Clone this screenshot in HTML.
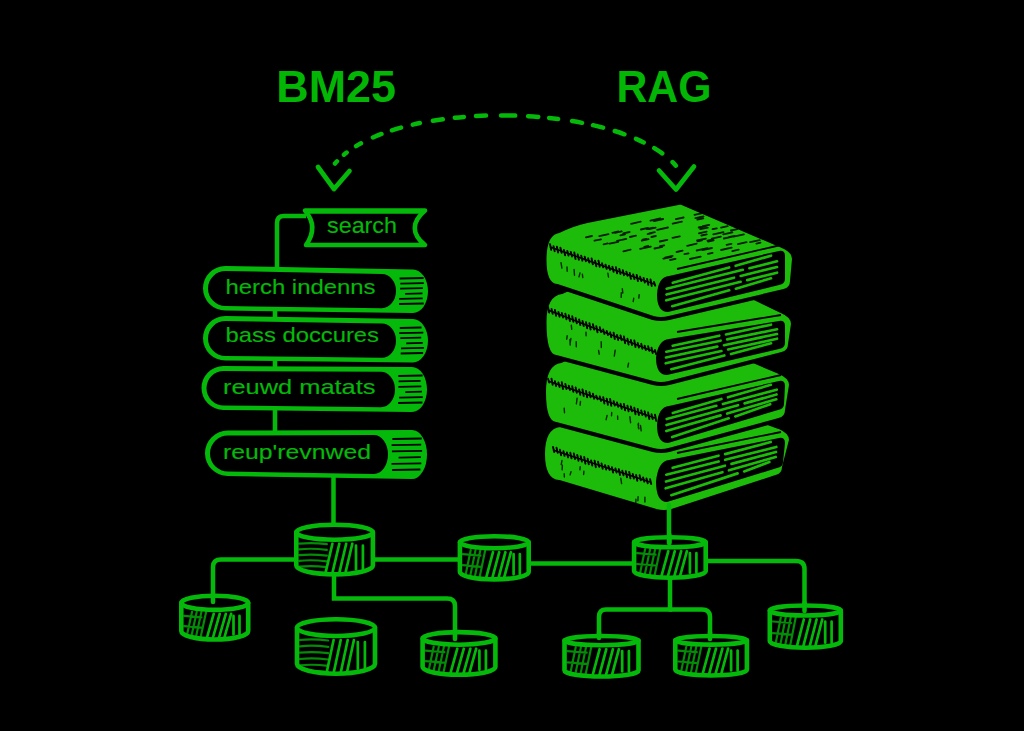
<!DOCTYPE html>
<html><head><meta charset="utf-8"><style>
html,body{margin:0;padding:0;background:#000;width:1024px;height:731px;overflow:hidden}
svg{display:block}
</style></head><body>
<svg width="1024" height="731" viewBox="0 0 1024 731">
<rect width="1024" height="731" fill="#000"/>
<text x="276.3" y="101.5" font-family="Liberation Sans" font-weight="bold" font-size="44" fill="#03b505" textLength="119.5" lengthAdjust="spacingAndGlyphs">BM25</text>
<text x="616.5" y="101.5" font-family="Liberation Sans" font-weight="bold" font-size="44" fill="#03b505" textLength="95" lengthAdjust="spacingAndGlyphs">RAG</text>
<path d="M333,166 C385.8,96.9 621.4,99.8 677,167" fill="none" stroke="#05b90a" stroke-width="4.5" stroke-linecap="round" stroke-dasharray="3.0 9.6 3.5 11.4 5.6 13.3 9.3 11.2 9.3 12.3 7.2 13.2 10.0 12.1 9.1 12.1 10.0 15.0 14.1 13.0 10.1 10.9 9.1 14.0 10.2 11.1 10.4 12.1 10.2 12.4 8.5 12.2 9.5 13.6 4.8 400.0" stroke-dashoffset="-3.2"/>
<polyline points="318,167 334,189 349.5,171" fill="none" stroke="#05b90a" stroke-width="4.7" stroke-linecap="round" stroke-linejoin="round"/>
<polyline points="659,170.5 676,189.5 694,166.5" fill="none" stroke="#05b90a" stroke-width="4.7" stroke-linecap="round" stroke-linejoin="round"/>
<path d="M306,216 H284 Q277,216 277,223 V268" fill="none" stroke="#05b90a" stroke-width="4.5"/>
<path d="M305,210.5 H425 Q404.5,228 425,245 H306 Q319,227 305,210.5 Z" fill="#000" stroke="#05b90a" stroke-width="4.6" stroke-linejoin="round"/>
<path d="M308,212.5 H421" stroke="#05b90a" stroke-width="2.5"/>
<text x="327" y="233" font-family="Liberation Sans" font-size="22" fill="#05b90a" stroke="#05b90a" stroke-width="0.15" textLength="70" lengthAdjust="spacingAndGlyphs">search</text>
<line x1="275" y1="309" x2="275" y2="318" stroke="#05b90a" stroke-width="4.5"/>
<line x1="275" y1="359" x2="275" y2="368" stroke="#05b90a" stroke-width="4.5"/>
<line x1="275" y1="408" x2="275" y2="433" stroke="#05b90a" stroke-width="4.5"/>
<path d="M225.25,266 L413,269.5 A15,21.75 0 0 1 413,313 L225.25,310.5 A22.25,22.25 0 0 1 225.25,266 Z" fill="#05b90a"/>
<path d="M225.5,271 L382,273.975 A14,17.07499999999999 0 0 1 382,308.125 L225.5,306.0 A17.5,17.5 0 0 1 225.5,271 Z" fill="#000"/>
<path d="M399.6,278.5 L423.5,278.0 M400.3,283.6 L423.8,283.1 M400.1,288.7 L422.9,288.2 M405.1,293.8 L422.5,293.3 M399.1,298.9 L422.7,298.4 M399.1,304.0 L423.7,303.5" stroke="#000" stroke-width="1.8" fill="none"/>
<text x="225.5" y="293.7" font-family="Liberation Sans" font-size="21" fill="#05b90a" stroke="#05b90a" stroke-width="0.15" textLength="150" lengthAdjust="spacingAndGlyphs">herch indenns</text>
<path d="M225.25,316 L413,319 A15,21.75 0 0 1 413,362.5 L225.25,360.5 A22.25,22.25 0 0 1 225.25,316 Z" fill="#05b90a"/>
<path d="M225.5,321 L382,323.55 A14,17.07499999999999 0 0 1 382,357.7 L225.5,356.0 A17.5,17.5 0 0 1 225.5,321 Z" fill="#000"/>
<path d="M399.8,328.0 L421.5,327.5 M399.2,333.1 L423.3,332.6 M400.3,338.2 L421.2,337.7 M406.2,343.3 L422.8,342.8 M401.0,348.4 L423.9,347.9 M400.7,353.5 L423.1,353.0" stroke="#000" stroke-width="1.8" fill="none"/>
<text x="225.5" y="342" font-family="Liberation Sans" font-size="21" fill="#05b90a" stroke="#05b90a" stroke-width="0.15" textLength="153.5" lengthAdjust="spacingAndGlyphs">bass doccures</text>
<path d="M223.5,366 L412,367 A15,22.5 0 0 1 412,412 L223.5,410 A22.0,22.0 0 0 1 223.5,366 Z" fill="#05b90a"/>
<path d="M223.75,371 L381,371.85 A14,17.674999999999983 0 0 1 381,407.2 L223.75,405.5 A17.25,17.25 0 0 1 223.75,371 Z" fill="#000"/>
<path d="M398.3,376.0 L422.6,375.5 M398.6,381.4 L420.6,380.9 M398.4,386.8 L421.3,386.3 M405.3,392.2 L421.9,391.7 M399.1,397.6 L422.8,397.1 M398.1,403.0 L422.4,402.5" stroke="#000" stroke-width="1.8" fill="none"/>
<text x="223" y="393.7" font-family="Liberation Sans" font-size="21" fill="#05b90a" stroke="#05b90a" stroke-width="0.15" textLength="152.5" lengthAdjust="spacingAndGlyphs">reuwd matats</text>
<path d="M227.75,430.5 L412,430 A15,24.5 0 0 1 412,479 L227.75,476 A22.75,22.75 0 0 1 227.75,430.5 Z" fill="#05b90a"/>
<path d="M228.0,435.5 L374,435.075 A14,19.48750000000001 0 0 1 374,474.05 L228.0,471.5 A18.0,18.0 0 0 1 228.0,435.5 Z" fill="#000"/>
<path d="M392.4,439.0 L421.7,438.5 M391.6,445.2 L421.2,444.7 M391.9,451.4 L422.1,450.9 M398.6,457.6 L420.9,457.1 M391.5,463.8 L421.3,463.3 M392.1,470.0 L420.4,469.5" stroke="#000" stroke-width="1.8" fill="none"/>
<text x="223" y="459" font-family="Liberation Sans" font-size="21" fill="#05b90a" stroke="#05b90a" stroke-width="0.15" textLength="148" lengthAdjust="spacingAndGlyphs">reup'revnwed</text>
<path d="M333.5,477 V524" fill="none" stroke="#05b90a" stroke-width="4.5" stroke-linecap="round"/>
<path d="M294,559.5 H221 Q213,559.5 213,567 V602" fill="none" stroke="#05b90a" stroke-width="4.5" stroke-linecap="round"/>
<path d="M375,559.5 H458" fill="none" stroke="#05b90a" stroke-width="4.5" stroke-linecap="round"/>
<path d="M531,563.5 H632" fill="none" stroke="#05b90a" stroke-width="4.5" stroke-linecap="round"/>
<path d="M334,577 V598.5 H447 Q455,598.5 455,606 V639" fill="none" stroke="#05b90a" stroke-width="4.5" stroke-linecap="round"/>
<path d="M708,561 H796 Q804.5,561 804.5,569 V611" fill="none" stroke="#05b90a" stroke-width="4.5" stroke-linecap="round"/>
<path d="M670,580 V609.5 H606 Q599,609.5 599,617 V638" fill="none" stroke="#05b90a" stroke-width="4.5" stroke-linecap="round"/>
<path d="M670,609.5 H702 Q710,609.5 710,617 V639" fill="none" stroke="#05b90a" stroke-width="4.5" stroke-linecap="round"/>
<path d="M296.3,532.2 V565.5 A38.3,8.9 0 0 0 372.9,565.5 V532.2 Z" fill="#000" stroke="#05b90a" stroke-width="4.6" stroke-linejoin="round"/>
<clipPath id="cc0"><path d="M296.3,532.2 V565.5 A38.3,8.9 0 0 0 372.9,565.5 V532.2 Z"/></clipPath>
<g clip-path="url(#cc0)" stroke="#05b90a" stroke-linecap="round" fill="none"><path d="M325.4,573.4 L332.4,543.7 M332.3,573.4 L339.3,543.7 M339.2,573.4 L346.2,543.7 M345.3,573.4 L352.3,543.7 M356.0,545.7 L356.0,569.4 M362.9,545.7 L362.9,569.4" stroke-width="2.7"/><path d="M299.3,543.7 Q311.6,542.2 326.9,544.2 M299.3,549.4 Q311.6,547.9 326.9,549.9 M299.3,555.2 Q311.6,553.7 326.9,555.7 M299.3,560.9 Q311.6,559.4 326.9,561.4 M299.3,566.7 Q311.6,565.2 326.9,567.2 M299.3,572.4 Q311.6,570.9 326.9,572.9" stroke-width="2.2" opacity="0.75"/></g>
<ellipse cx="334.6" cy="532.2" rx="38.3" ry="7.5" fill="#000" stroke="#05b90a" stroke-width="4.6"/>
<path d="M459.9,542.2 V571.9 A34.4,7.5 0 0 0 528.7,571.9 V542.2 Z" fill="#000" stroke="#05b90a" stroke-width="4.6" stroke-linejoin="round"/>
<clipPath id="cc1"><path d="M459.9,542.2 V571.9 A34.4,7.5 0 0 0 528.7,571.9 V542.2 Z"/></clipPath>
<g clip-path="url(#cc1)" stroke="#05b90a" stroke-linecap="round" fill="none"><path d="M486.0,578.3 L493.0,552.2 M492.2,578.3 L499.2,552.2 M498.4,578.3 L505.4,552.2 M503.9,578.3 L510.9,552.2 M513.6,554.2 L513.6,574.3 M519.8,554.2 L519.8,574.3" stroke-width="2.7"/><path d="M462.9,554.2 L480.5,555.7 M462.9,565.2 L480.5,566.8 M462.9,576.3 L480.5,577.8 M464.7,579.3 L470.7,550.2 M469.5,579.3 L475.5,550.2 M474.3,579.3 L480.3,550.2 M479.2,579.3 L485.2,550.2" stroke-width="2.2" opacity="0.75"/></g>
<ellipse cx="494.3" cy="542.2" rx="34.4" ry="6.0" fill="#000" stroke="#05b90a" stroke-width="4.6"/>
<path d="M634.1,542.2 V571.2 A35.8,6.5 0 0 0 705.7,571.2 V542.2 Z" fill="#000" stroke="#05b90a" stroke-width="4.6" stroke-linejoin="round"/>
<clipPath id="cc2"><path d="M634.1,542.2 V571.2 A35.8,6.5 0 0 0 705.7,571.2 V542.2 Z"/></clipPath>
<g clip-path="url(#cc2)" stroke="#05b90a" stroke-linecap="round" fill="none"><path d="M661.3,576.7 L668.3,551.2 M667.8,576.7 L674.8,551.2 M674.2,576.7 L681.2,551.2 M679.9,576.7 L686.9,551.2 M689.9,553.2 L689.9,572.7 M696.4,553.2 L696.4,572.7" stroke-width="2.7"/><path d="M637.1,553.2 L655.6,554.7 M637.1,564.0 L655.6,565.5 M637.1,574.7 L655.6,576.2 M639.1,577.7 L645.1,549.2 M644.1,577.7 L650.1,549.2 M649.1,577.7 L655.1,549.2 M654.1,577.7 L660.1,549.2" stroke-width="2.2" opacity="0.75"/></g>
<ellipse cx="669.9" cy="542.2" rx="35.8" ry="5.0" fill="#000" stroke="#05b90a" stroke-width="4.6"/>
<path d="M181.3,602.8 V630.9 A33.4,8.6 0 0 0 248.2,630.9 V602.8 Z" fill="#000" stroke="#05b90a" stroke-width="4.6" stroke-linejoin="round"/>
<clipPath id="cc3"><path d="M181.3,602.8 V630.9 A33.4,8.6 0 0 0 248.2,630.9 V602.8 Z"/></clipPath>
<g clip-path="url(#cc3)" stroke="#05b90a" stroke-linecap="round" fill="none"><path d="M206.7,638.5 L213.7,613.9 M212.7,638.5 L219.7,613.9 M218.8,638.5 L225.8,613.9 M224.1,638.5 L231.1,613.9 M233.5,615.9 L233.5,634.5 M239.5,615.9 L239.5,634.5" stroke-width="2.7"/><path d="M184.3,615.9 L201.4,617.4 M184.3,626.2 L201.4,627.7 M184.3,636.5 L201.4,638.0 M186.0,639.5 L192.0,611.9 M190.7,639.5 L196.7,611.9 M195.4,639.5 L201.4,611.9 M200.1,639.5 L206.1,611.9" stroke-width="2.2" opacity="0.75"/></g>
<ellipse cx="214.8" cy="602.8" rx="33.4" ry="7.1" fill="#000" stroke="#05b90a" stroke-width="4.6"/>
<path d="M297.0,627.6 V663.8 A39.0,9.9 0 0 0 375.0,663.8 V627.6 Z" fill="#000" stroke="#05b90a" stroke-width="4.6" stroke-linejoin="round"/>
<clipPath id="cc4"><path d="M297.0,627.6 V663.8 A39.0,9.9 0 0 0 375.0,663.8 V627.6 Z"/></clipPath>
<g clip-path="url(#cc4)" stroke="#05b90a" stroke-linecap="round" fill="none"><path d="M326.6,672.7 L333.6,640.0 M333.7,672.7 L340.7,640.0 M340.7,672.7 L347.7,640.0 M346.9,672.7 L353.9,640.0 M357.8,642.0 L357.8,668.7 M364.9,642.0 L364.9,668.7" stroke-width="2.7"/><path d="M300.0,640.0 Q312.6,638.5 328.2,640.5 M300.0,646.3 Q312.6,644.8 328.2,646.8 M300.0,652.7 Q312.6,651.2 328.2,653.2 M300.0,659.0 Q312.6,657.5 328.2,659.5 M300.0,665.4 Q312.6,663.9 328.2,665.9 M300.0,671.7 Q312.6,670.2 328.2,672.2" stroke-width="2.2" opacity="0.75"/></g>
<ellipse cx="336.0" cy="627.6" rx="39.0" ry="8.4" fill="#000" stroke="#05b90a" stroke-width="4.6"/>
<path d="M422.6,638.4 V666.9 A36.4,7.8 0 0 0 495.4,666.9 V638.4 Z" fill="#000" stroke="#05b90a" stroke-width="4.6" stroke-linejoin="round"/>
<clipPath id="cc5"><path d="M422.6,638.4 V666.9 A36.4,7.8 0 0 0 495.4,666.9 V638.4 Z"/></clipPath>
<g clip-path="url(#cc5)" stroke="#05b90a" stroke-linecap="round" fill="none"><path d="M450.3,673.7 L457.3,648.7 M456.8,673.7 L463.8,648.7 M463.4,673.7 L470.4,648.7 M469.2,673.7 L476.2,648.7 M479.4,650.7 L479.4,669.7 M485.9,650.7 L485.9,669.7" stroke-width="2.7"/><path d="M425.6,650.7 L444.4,652.2 M425.6,661.2 L444.4,662.7 M425.6,671.7 L444.4,673.2 M427.7,674.7 L433.7,646.7 M432.8,674.7 L438.8,646.7 M437.9,674.7 L443.9,646.7 M443.0,674.7 L449.0,646.7" stroke-width="2.2" opacity="0.75"/></g>
<ellipse cx="459.0" cy="638.4" rx="36.4" ry="6.3" fill="#000" stroke="#05b90a" stroke-width="4.6"/>
<path d="M564.5,640.6 V670.4 A37.0,6.1 0 0 0 638.5,670.4 V640.6 Z" fill="#000" stroke="#05b90a" stroke-width="4.6" stroke-linejoin="round"/>
<clipPath id="cc6"><path d="M564.5,640.6 V670.4 A37.0,6.1 0 0 0 638.5,670.4 V640.6 Z"/></clipPath>
<g clip-path="url(#cc6)" stroke="#05b90a" stroke-linecap="round" fill="none"><path d="M592.6,675.4 L599.6,649.2 M599.3,675.4 L606.3,649.2 M605.9,675.4 L612.9,649.2 M611.9,675.4 L618.9,649.2 M622.2,651.2 L622.2,671.4 M628.9,651.2 L628.9,671.4" stroke-width="2.7"/><path d="M567.5,651.2 L586.7,652.7 M567.5,662.3 L586.7,663.8 M567.5,673.4 L586.7,674.9 M569.7,676.4 L575.7,647.2 M574.9,676.4 L580.9,647.2 M580.0,676.4 L586.0,647.2 M585.2,676.4 L591.2,647.2" stroke-width="2.2" opacity="0.75"/></g>
<ellipse cx="601.5" cy="640.6" rx="37.0" ry="4.6" fill="#000" stroke="#05b90a" stroke-width="4.6"/>
<path d="M675.3,640.3 V669.7 A35.8,5.8 0 0 0 746.9,669.7 V640.3 Z" fill="#000" stroke="#05b90a" stroke-width="4.6" stroke-linejoin="round"/>
<clipPath id="cc7"><path d="M675.3,640.3 V669.7 A35.8,5.8 0 0 0 746.9,669.7 V640.3 Z"/></clipPath>
<g clip-path="url(#cc7)" stroke="#05b90a" stroke-linecap="round" fill="none"><path d="M702.5,674.4 L709.5,648.6 M709.0,674.4 L716.0,648.6 M715.4,674.4 L722.4,648.6 M721.1,674.4 L728.1,648.6 M731.1,650.6 L731.1,670.4 M737.6,650.6 L737.6,670.4" stroke-width="2.7"/><path d="M678.3,650.6 L696.8,652.1 M678.3,661.5 L696.8,663.0 M678.3,672.4 L696.8,673.9 M680.3,675.4 L686.3,646.6 M685.3,675.4 L691.3,646.6 M690.3,675.4 L696.3,646.6 M695.3,675.4 L701.3,646.6" stroke-width="2.2" opacity="0.75"/></g>
<ellipse cx="711.1" cy="640.3" rx="35.8" ry="4.3" fill="#000" stroke="#05b90a" stroke-width="4.6"/>
<path d="M769.8,610.5 V641.2 A35.5,6.5 0 0 0 840.8,641.2 V610.5 Z" fill="#000" stroke="#05b90a" stroke-width="4.6" stroke-linejoin="round"/>
<clipPath id="cc8"><path d="M769.8,610.5 V641.2 A35.5,6.5 0 0 0 840.8,641.2 V610.5 Z"/></clipPath>
<g clip-path="url(#cc8)" stroke="#05b90a" stroke-linecap="round" fill="none"><path d="M796.8,646.7 L803.8,619.5 M803.2,646.7 L810.2,619.5 M809.6,646.7 L816.6,619.5 M815.2,646.7 L822.2,619.5 M825.2,621.5 L825.2,642.7 M831.6,621.5 L831.6,642.7" stroke-width="2.7"/><path d="M772.8,621.5 L791.1,623.0 M772.8,633.1 L791.1,634.6 M772.8,644.7 L791.1,646.2 M774.8,647.7 L780.8,617.5 M779.7,647.7 L785.7,617.5 M784.7,647.7 L790.7,617.5 M789.7,647.7 L795.7,617.5" stroke-width="2.2" opacity="0.75"/></g>
<ellipse cx="805.3" cy="610.5" rx="35.5" ry="5.0" fill="#000" stroke="#05b90a" stroke-width="4.6"/>
<path d="M213,595 V602" stroke="#05b90a" stroke-width="4.5" stroke-linecap="round"/>
<path d="M455,630 V639" stroke="#05b90a" stroke-width="4.5" stroke-linecap="round"/>
<path d="M669.5,535 V543" stroke="#05b90a" stroke-width="4.5" stroke-linecap="round"/>
<path d="M804.5,603 V611" stroke="#05b90a" stroke-width="4.5" stroke-linecap="round"/>
<path d="M599,632 V638" stroke="#05b90a" stroke-width="4.5" stroke-linecap="round"/>
<path d="M710,632 V639" stroke="#05b90a" stroke-width="4.5" stroke-linecap="round"/>
<path d="M681,392 L779,427 Q791,432 791,440 L784,467 Q784,475 776,477 L672,511 Q664,513 656,511 L559,482 Q543,481 543,454 Q543,427 560,425 Q574,418 588,415 L681,392 Z" fill="#1ebc0a" stroke="#000" stroke-width="4" stroke-linejoin="round"/>
<path d="M677,453 L781,432" stroke="#000" stroke-width="1.8" fill="none"/>
<path d="M553.0,446.9 L554.2,452.1 M556.5,447.7 L557.7,452.9 M559.9,449.7 L561.1,455.3 M563.4,451.2 L564.6,455.9 M566.9,452.5 L568.1,457.4 M570.3,452.6 L571.5,458.4 M573.8,453.5 L575.0,459.0 M577.2,455.0 L578.5,460.7 M580.7,456.3 L581.9,461.6 M584.2,457.0 L585.4,463.7 M587.6,458.7 L588.8,464.3 M591.1,460.5 L592.3,465.5 M594.6,460.7 L595.8,467.2 M598.0,461.6 L599.2,466.9 M601.5,463.4 L602.7,468.8 M605.0,465.1 L606.2,469.6 M608.4,466.0 L609.6,470.0 M611.9,467.3 L613.1,472.5 M615.4,468.4 L616.6,472.6 M618.8,469.1 L620.0,475.0 M622.3,470.7 L623.5,475.3 M625.8,471.2 L627.0,477.3 M629.2,471.9 L630.4,478.4 M632.7,473.9 L633.9,478.6 M636.1,474.9 L637.3,480.7 M639.6,475.1 L640.8,480.4 M643.1,477.4 L644.3,481.7 M646.5,478.5 L647.7,483.3 M650.0,479.1 L651.2,484.0" stroke="#000" stroke-width="1.9" stroke-linecap="round" fill="none"/>
<path d="M553.0,450.0 L650.0,482.0" stroke="#000" stroke-width="1.6" fill="none"/>
<path d="M562.4,465.2 l-0.3,4.7 M644.9,497.1 l0.0,4.9 M620.8,478.3 l0.8,5.3 M638.1,496.6 l-0.2,4.2 M571.0,471.7 l-0.9,3.2 M580.2,466.7 l-0.3,3.2 M562.0,460.5 l-0.8,4.1 M564.2,473.6 l0.2,3.4 M583.9,471.1 l-0.3,3.4 M635.9,499.2 l-0.1,4.5" stroke="#000" stroke-width="1.4" stroke-linecap="round" fill="none" opacity="0.8"/>
<path d="M669,460 L779,438 Q785,437 785,443 L783,462 Q783,467 777,468 L667,502 Q656,502 656,481.5 Q658,461 669,460 Z" fill="#000"/>
<path d="M672.7,467.8 L718.5,455.7 M725.1,454.1 L770.7,442.0 M666.3,474.7 L718.6,461.5 M725.2,459.8 L776.3,447.0 M666.0,481.5 L724.9,465.7 M731.5,463.9 L776.0,452.0 M665.7,488.3 L722.4,472.2 M729.0,470.3 L775.7,457.0 M671.3,495.2 L737.6,473.4 M744.2,471.4 L769.3,462.0" stroke="#1ebc0a" stroke-width="2.7" stroke-linecap="round" fill="none"/>
<path d="M681,330 L779,372 Q791,377 791,385 L787,410 Q787,418 779,420 L669,450 Q661,452 653,450 L556,424 Q544,423 544,392 Q544,363 561,361 Q575,354 589,351 L681,330 Z" fill="#1ebc0a" stroke="#000" stroke-width="4" stroke-linejoin="round"/>
<path d="M677,399 L781,375" stroke="#000" stroke-width="1.8" fill="none"/>
<path d="M548.0,378.8 L549.2,382.5 M551.5,378.8 L552.7,384.8 M554.9,381.2 L556.1,386.0 M558.4,382.5 L559.6,387.1 M561.8,382.3 L563.0,389.0 M565.3,383.9 L566.5,389.0 M568.7,385.6 L569.9,390.0 M572.2,386.2 L573.4,391.9 M575.6,387.4 L576.8,392.7 M579.1,389.4 L580.3,394.9 M582.5,389.5 L583.7,396.1 M586.0,390.9 L587.2,397.3 M589.4,392.2 L590.6,397.3 M592.9,393.7 L594.1,398.7 M596.3,395.7 L597.5,399.3 M599.8,396.5 L601.0,400.9 M603.2,397.1 L604.4,403.5 M606.7,398.6 L607.9,404.7 M610.1,399.0 L611.3,405.9 M613.6,401.1 L614.8,405.6 M617.0,402.5 L618.2,406.8 M620.5,403.8 L621.7,408.8 M623.9,403.9 L625.1,410.4 M627.4,405.7 L628.6,411.3 M630.8,406.4 L632.0,411.3 M634.3,407.8 L635.5,414.2 M637.7,408.9 L638.9,415.0 M641.2,410.5 L642.4,415.1 M644.6,411.2 L645.8,416.6 M648.1,412.4 L649.3,419.1 M651.5,414.2 L652.7,419.1 M655.0,414.6 L656.2,420.9" stroke="#000" stroke-width="1.9" stroke-linecap="round" fill="none"/>
<path d="M548.0,381.0 L655.0,418.0" stroke="#000" stroke-width="1.6" fill="none"/>
<path d="M577.1,398.2 l-0.7,5.7 M629.9,416.8 l0.7,5.9 M617.6,416.0 l0.1,3.4 M564.2,408.1 l0.3,4.6 M640.5,425.4 l0.7,5.5 M580.5,401.5 l-0.4,3.7 M611.7,412.4 l-0.2,3.4 M638.5,423.3 l-0.1,4.8 M638.1,424.3 l0.8,4.5 M607.1,415.4 l-1.0,4.3" stroke="#000" stroke-width="1.4" stroke-linecap="round" fill="none" opacity="0.8"/>
<path d="M669,406 L779,381 Q785,380 785,386 L784,404 Q784,409 778,410 L668,443 Q657,443 657,425.0 Q658,407 669,406 Z" fill="#000"/>
<path d="M672.8,413.0 L721.4,399.0 M728.0,397.3 L770.8,384.8 M666.7,419.0 L716.3,405.8 M722.9,404.0 L776.7,389.7 M666.5,425.0 L738.0,405.2 M744.6,403.4 L776.5,394.5 M666.3,431.0 L720.6,415.4 M727.2,413.5 L776.3,399.3 M672.2,437.0 L728.7,418.3 M735.3,416.4 L770.2,404.2" stroke="#1ebc0a" stroke-width="2.7" stroke-linecap="round" fill="none"/>
<path d="M681,262 L781,311 Q793,316 793,324 L790,344 Q790,352 782,354 L669,383 Q661,385 653,383 L556,357 Q544.5,356 544.5,322 Q544.5,294 562,292 Q576,285 590,282 L681,262 Z" fill="#1ebc0a" stroke="#000" stroke-width="4" stroke-linejoin="round"/>
<path d="M677,332 L781,315" stroke="#000" stroke-width="1.8" fill="none"/>
<path d="M548.0,306.9 L549.2,312.6 M551.5,308.9 L552.7,313.9 M554.9,309.9 L556.1,315.8 M558.4,311.9 L559.6,316.7 M561.8,313.0 L563.0,317.5 M565.3,313.6 L566.5,319.3 M568.7,315.3 L569.9,321.1 M572.2,316.1 L573.4,321.9 M575.6,317.9 L576.8,323.3 M579.1,319.4 L580.3,325.1 M582.5,320.9 L583.7,326.1 M586.0,322.2 L587.2,328.3 M589.4,323.2 L590.6,329.5 M592.9,324.2 L594.1,329.6 M596.3,326.1 L597.5,332.4 M599.8,327.1 L601.0,332.1 M603.2,329.5 L604.4,334.1 M606.7,330.9 L607.9,335.0 M610.1,332.3 L611.3,337.2 M613.6,332.6 L614.8,339.0 M617.0,334.9 L618.2,340.0 M620.5,335.5 L621.7,340.2 M623.9,336.5 L625.1,343.2 M627.4,338.8 L628.6,344.6 M630.8,339.9 L632.0,345.0 M634.3,340.4 L635.5,347.0 M637.7,343.0 L638.9,347.6 M641.2,343.8 L642.4,348.8 M644.6,345.6 L645.8,350.1 M648.1,346.2 L649.3,350.8 M651.5,347.8 L652.7,353.0 M655.0,350.0 L656.2,354.2" stroke="#000" stroke-width="1.9" stroke-linecap="round" fill="none"/>
<path d="M548.0,310.0 L655.0,352.0" stroke="#000" stroke-width="1.6" fill="none"/>
<path d="M615.2,350.1 l-0.9,6.0 M628.6,363.2 l-0.8,3.8 M567.2,335.8 l-0.5,3.4 M598.6,350.4 l0.6,3.8 M576.2,341.7 l0.1,5.1 M571.3,325.1 l0.4,4.3 M569.9,339.6 l0.3,5.4 M570.9,338.5 l-0.9,5.6 M601.2,341.7 l0.1,5.8 M586.0,332.1 l0.1,3.7" stroke="#000" stroke-width="1.4" stroke-linecap="round" fill="none" opacity="0.8"/>
<path d="M669,339 L779,321 Q785,320 785,326 L785,343 Q785,348 779,349 L667,375 Q656,375 656,357.5 Q658,340 669,339 Z" fill="#000"/>
<path d="M672.7,345.8 L719.3,335.7 M726.0,334.5 L771.0,324.7 M666.3,351.7 L720.6,340.7 M727.2,339.4 L777.0,329.3 M666.0,357.5 L717.3,346.6 M724.0,345.2 L777.0,334.0 M665.7,363.3 L721.4,351.0 M728.1,349.5 L777.0,338.7 M671.3,369.2 L724.3,355.5 M731.0,354.0 L771.0,343.3" stroke="#1ebc0a" stroke-width="2.7" stroke-linecap="round" fill="none"/>
<path d="M680.6,202.5 L782,246 Q794,251 794,259 L792,281 Q792,289 784,291 L669,318 Q661,320 653,318 L557,286 Q544.5,285 544.5,260 Q544.5,233 559,231 Q573,224 587,221 L680.6,202.5 Z" fill="#1ebc0a" stroke="#000" stroke-width="4" stroke-linejoin="round"/>
<path d="M676.6,252.0 l6.0,-1.3 M646.8,229.1 l6.4,-1.4 M603.6,244.3 l4.1,-0.9 M701.4,235.5 l5.3,-1.2 M707.9,253.9 l4.7,-1.0 M700.3,229.2 l7.5,-1.6 M698.7,227.5 l7.5,-1.7 M732.3,251.1 l6.4,-1.4 M723.8,238.5 l8.5,-1.9 M651.4,237.0 l4.4,-1.0 M599.3,236.1 l9.2,-2.0 M620.4,235.3 l4.6,-1.0 M737.9,244.1 l8.7,-1.9 M629.9,237.0 l6.1,-1.3 M640.9,229.5 l7.1,-1.6 M689.9,259.0 l10.8,-2.4 M657.2,229.9 l10.8,-2.4 M642.5,239.7 l4.0,-0.9 M659.8,241.5 l7.5,-1.7 M644.3,246.9 l4.0,-0.9 M614.9,232.9 l6.8,-1.5 M585.9,237.3 l6.1,-1.3 M654.5,248.5 l7.7,-1.7 M711.8,238.7 l9.0,-2.0 M702.9,226.2 l6.3,-1.4 M694.5,214.8 l9.1,-2.0 M650.5,220.7 l9.8,-2.2 M723.3,234.4 l9.1,-2.0 M675.9,219.2 l7.7,-1.7 M702.4,250.1 l9.6,-2.1 M713.3,234.4 l10.2,-2.3 M708.0,241.5 l5.6,-1.2 M594.5,240.7 l6.5,-1.4 M663.7,258.6 l7.9,-1.7 M697.1,240.5 l8.8,-1.9 M631.1,223.8 l9.6,-2.1 M698.9,233.4 l7.7,-1.7 M654.0,221.0 l9.2,-2.0 M612.4,232.8 l5.9,-1.3 M672.7,223.7 l9.2,-2.0 M721.0,227.6 l6.7,-1.5 M687.2,245.8 l9.4,-2.1 M697.4,241.3 l4.5,-1.0 M617.1,240.9 l9.2,-2.0 M660.1,246.2 l4.1,-0.9 M609.5,243.7 l8.7,-1.9 M707.5,240.7 l6.0,-1.3 M672.5,237.9 l7.3,-1.6 M670.1,260.0 l5.4,-1.2 M756.4,243.6 l4.1,-0.9 M696.7,250.5 l10.8,-2.4 M649.3,233.3 l5.5,-1.2 M695.4,218.1 l8.1,-1.8 M640.1,248.9 l10.7,-2.3 M665.0,257.6 l7.6,-1.7 M728.9,237.2 l5.6,-1.2 M712.6,229.2 l4.2,-0.9 M623.4,251.3 l7.2,-1.6 M623.2,233.4 l6.4,-1.4 M684.5,254.2 l4.0,-0.9 M726.6,244.9 l4.8,-1.1 M733.6,236.7 l10.3,-2.3 M641.8,240.7 l6.8,-1.5 M730.9,230.5 l6.5,-1.4 M647.6,234.1 l4.3,-1.0 M663.3,258.6 l6.0,-1.3 M697.4,219.7 l5.9,-1.3 M649.0,229.2 l6.6,-1.5 M750.1,242.2 l9.7,-2.1 M721.1,250.0 l10.6,-2.3" stroke="#000" stroke-width="1.8" stroke-linecap="round" fill="none" opacity="0.85"/>
<path d="M677,269 L781,245" stroke="#000" stroke-width="1.8" fill="none"/>
<path d="M550.0,244.2 L551.2,249.9 M553.5,246.2 L554.7,251.2 M556.9,246.8 L558.1,252.5 M560.4,247.7 L561.6,252.8 M563.9,249.9 L565.1,255.3 M567.3,251.0 L568.5,255.6 M570.8,251.9 L572.0,256.5 M574.3,252.5 L575.5,259.1 M577.7,254.5 L578.9,259.7 M581.2,255.6 L582.4,260.7 M584.7,256.7 L585.9,261.2 M588.1,258.3 L589.3,262.5 M591.6,258.4 L592.8,264.3 M595.1,260.7 L596.3,266.3 M598.5,260.8 L599.7,266.7 M602.0,263.3 L603.2,267.4 M605.5,264.6 L606.7,268.9 M608.9,265.8 L610.1,269.9 M612.4,266.8 L613.6,271.8 M615.9,267.1 L617.1,273.4 M619.3,269.0 L620.5,274.0 M622.8,270.1 L624.0,275.2 M626.3,271.6 L627.5,275.8 M629.7,273.0 L630.9,278.8 M633.2,274.4 L634.4,279.1 M636.7,274.9 L637.9,281.1 M640.1,276.7 L641.3,281.1 M643.6,277.9 L644.8,282.6 M647.1,278.9 L648.3,284.9 M650.5,279.5 L651.7,286.0 M654.0,282.0 L655.2,285.6" stroke="#000" stroke-width="1.9" stroke-linecap="round" fill="none"/>
<path d="M550.0,247.0 L654.0,284.0" stroke="#000" stroke-width="1.6" fill="none"/>
<path d="M621.3,292.6 l-0.1,4.8 M561.0,262.6 l0.9,5.5 M633.7,298.3 l-0.5,3.3 M574.1,269.5 l0.4,5.8 M622.3,288.7 l0.5,4.4 M607.9,273.3 l0.6,3.7 M639.2,294.7 l-0.4,3.4 M582.4,274.3 l0.4,3.3 M567.0,267.0 l0.2,4.2 M580.0,272.9 l-1.0,3.9" stroke="#000" stroke-width="1.4" stroke-linecap="round" fill="none" opacity="0.8"/>
<path d="M669,276 L779,251 Q785,250 785,256 L785,279 Q785,284 779,285 L668,312 Q657,312 657,294.5 Q658,277 669,276 Z" fill="#000"/>
<path d="M672.8,282.8 L729.1,267.5 M735.7,265.8 L771.0,255.7 M666.7,288.7 L742.8,269.8 M749.4,268.2 L777.0,261.3 M666.5,294.5 L734.0,277.7 M740.7,276.0 L777.0,267.0 M666.3,300.3 L740.6,281.8 M747.2,280.1 L777.0,272.7 M672.2,306.2 L729.2,290.3 M735.9,288.7 L771.0,278.3" stroke="#1ebc0a" stroke-width="2.7" stroke-linecap="round" fill="none"/>
<path d="M669,505 V543" stroke="#05b90a" stroke-width="4.5" stroke-linecap="round"/>
</svg>
</body></html>
